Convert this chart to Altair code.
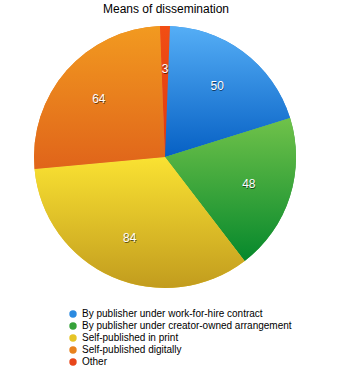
import altair as alt
import pandas as pd

title_text = "Means of dissemination"
categories = [
    "By publisher under work-for-hire contract",
    "By publisher under creator-owned arrangement",
    "Self-published in print",
    "Self-published digitally",
    "Other",
]
values = [50, 48, 84, 64, 3]
legend_colors = ["#2b8ae0", "#36a23a", "#e6c426", "#e8821e", "#e8461a"]
top_colors = ["#55aef6", "#70c24a", "#fae232", "#f29a20", "#f24e14"]
bottom_colors = ["#0660c4", "#06882c", "#c29c1e", "#e0641a", "#dc3a10"]

df = pd.DataFrame({"category": categories, "value": values, "order": list(range(len(values)))})

CX, CY, R, LR = 165, 157, 131, 88

base = alt.Chart(df).transform_stack(
    stack="value", groupby=[], as_=["s0", "s1"], sort=[alt.SortField("order", order="ascending")]
).transform_calculate(mid="(datum.s0 + datum.s1) / 2")

theta_scale = alt.Scale(range=[0, 6.283185307179586])

legend_layer = base.mark_arc(radius=R).encode(
    theta=alt.Theta("s0:Q", scale=theta_scale),
    theta2="s1:Q",
    color=alt.Color(
        "category:N",
        sort=categories,
        scale=alt.Scale(domain=categories, range=legend_colors),
        legend=alt.Legend(
            title=None,
            orient="none",
            legendX=68,
            legendY=309,
            symbolType="circle",
            symbolSize=55,
            symbolStrokeWidth=0,
            labelFontSize=10,
            labelFont="Liberation Sans",
            labelColor="#000000",
            labelOffset=4,
            labelLimit=0,
            rowPadding=2,
            padding=0,
        ),
    ),
    x=alt.value(CX),
    y=alt.value(CY),
)

layers = [legend_layer]
for cat, tc, bc in zip(categories, top_colors, bottom_colors):
    grad = alt.LinearGradient(
        gradient="linear",
        stops=[alt.GradientStop(color=tc, offset=0), alt.GradientStop(color=bc, offset=1)],
        x1=0, x2=0, y1=0, y2=1,
    )
    layers.append(
        base.transform_filter(alt.datum.category == cat)
        .mark_arc(radius=R, fill=grad)
        .encode(theta=alt.Theta("s0:Q", scale=theta_scale), theta2="s1:Q", x=alt.value(CX), y=alt.value(CY))
    )

shadow = base.mark_text(radius=LR, fontSize=12, font="Liberation Sans", color="#000000", opacity=0.55, dx=0.5, dy=1).encode(
    theta=alt.Theta("mid:Q", scale=theta_scale), text="value:Q", x=alt.value(CX), y=alt.value(CY)
)
labels = base.mark_text(radius=LR, fontSize=12, font="Liberation Sans", color="#ffffff").encode(
    theta=alt.Theta("mid:Q", scale=theta_scale), text="value:Q", x=alt.value(CX), y=alt.value(CY)
)
layers += [shadow, labels]

title_df = pd.DataFrame({"t": [title_text]})
title_layer = alt.Chart(title_df).mark_text(
    fontSize=12, font="Liberation Sans", color="#000000", baseline="middle", align="center"
).encode(text="t:N", x=alt.value(166), y=alt.value(9))
layers.append(title_layer)

chart = alt.layer(*layers).properties(
    width=360, height=368, autosize=alt.AutoSizeParams(type="none"), padding=0
).configure_view(stroke=None)

chart.save("out.html", embed_options={"renderer": "svg", "actions": False})
